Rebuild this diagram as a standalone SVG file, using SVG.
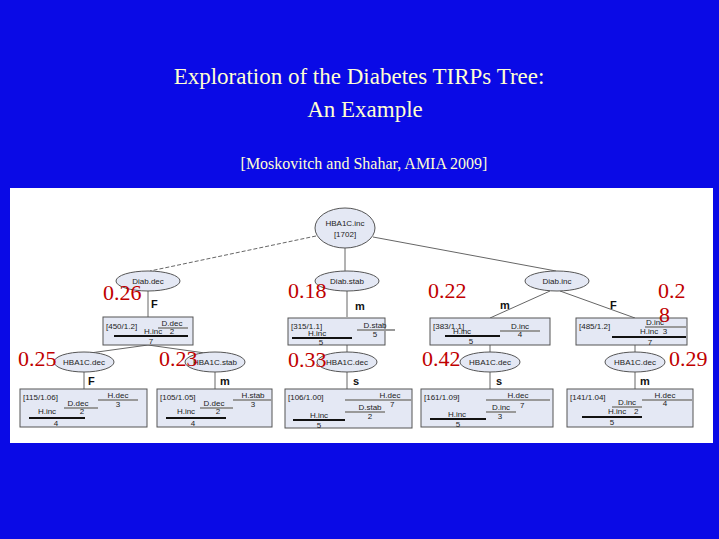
<svg xmlns="http://www.w3.org/2000/svg" width="719" height="539" viewBox="0 0 719 539">
<style>
.t{font-family:"Liberation Serif",serif;fill:#ffffd0;text-anchor:middle}
.r{font-family:"Liberation Serif",serif;fill:#c00000;font-size:22px}
.n{fill:#e4e8f4;stroke:#555;stroke-width:1}
.s{font-family:"Liberation Sans",sans-serif;font-size:8px;fill:#222}
.l{font-family:"Liberation Sans",sans-serif;font-size:11px;font-weight:bold;fill:#111}
.e{stroke:#666;stroke-width:1;fill:none}
.bk{stroke:#111;stroke-width:2}
.gr{stroke:#999;stroke-width:2}
</style>
<rect width="719" height="539" fill="#0a0ae6"/>
<text class="t" x="359" y="84" font-size="23">Exploration of the Diabetes TIRPs Tree:</text>
<text class="t" x="365" y="117" font-size="23">An Example</text>
<text class="t" x="364" y="169" font-size="16">[Moskovitch and Shahar, AMIA 2009]</text>
<rect x="10" y="188" width="703" height="255" fill="#fff"/>
<g id="connectors">
<line class="e" x1="316" y1="236" x2="150" y2="271" stroke-dasharray="4,2"/>
<line class="e" x1="373" y1="237" x2="556" y2="271"/>
<line class="e" x1="345" y1="248" x2="345" y2="271"/>
<line class="e" x1="148" y1="291" x2="148" y2="317"/>
<line class="e" x1="347" y1="291" x2="347" y2="317"/>
<line class="e" x1="550" y1="291" x2="490" y2="318"/>
<line class="e" x1="560" y1="291" x2="635" y2="318"/>
<line class="e" x1="148" y1="345" x2="90" y2="353"/>
<line class="e" x1="148" y1="345" x2="205" y2="353"/>
<line class="e" x1="347" y1="345" x2="347" y2="352"/>
<line class="e" x1="490" y1="345" x2="490" y2="352"/>
<line class="e" x1="635" y1="345" x2="635" y2="352"/>
<line class="e" x1="84" y1="372" x2="84" y2="389"/>
<line class="e" x1="215" y1="372" x2="215" y2="389"/>
<line class="e" x1="347" y1="372" x2="347" y2="389"/>
<line class="e" x1="490" y1="372" x2="490" y2="389"/>
<line class="e" x1="635" y1="372" x2="635" y2="389"/>
<text class="l" x="151" y="308">F</text><text class="l" x="355" y="310">m</text>
<text class="l" x="500" y="309">m</text><text class="l" x="610" y="309">F</text>
<text class="l" x="88" y="385">F</text><text class="l" x="220" y="385">m</text>
<text class="l" x="353" y="385">s</text><text class="l" x="496" y="385">s</text><text class="l" x="640" y="385">m</text>
</g>
<g id="root"><ellipse class="n" cx="345" cy="228" rx="30" ry="20"/><text class="s" x="345" y="226" text-anchor="middle">HBA1C.inc</text><text class="s" x="345" y="237" text-anchor="middle">[1702]</text></g>
<g id="diabdec"><ellipse class="n" cx="148" cy="281" rx="32" ry="10"/><text class="s" x="148" y="284" text-anchor="middle">Diab.dec</text></g>
<g id="diabstab"><ellipse class="n" cx="347" cy="281" rx="32" ry="10"/><text class="s" x="347" y="284" text-anchor="middle">Diab.stab</text></g>
<g id="diabinc"><ellipse class="n" cx="557" cy="281" rx="32" ry="10"/><text class="s" x="557" y="284" text-anchor="middle">Diab.inc</text></g>
<g id="b1"><rect class="n" x="103" y="317" width="90" height="28"/><text class="s" x="106" y="329">[450/1.2]</text><text class="s" x="144" y="334">H.inc</text><text class="s" x="172" y="326" text-anchor="middle">D.dec</text><line class="gr" x1="158" y1="328" x2="188" y2="328"/><text class="s" x="172" y="334" text-anchor="middle">2</text><line class="bk" x1="114" y1="336" x2="188" y2="336"/><text class="s" x="151" y="344" text-anchor="middle">7</text></g>
<g id="b2"><rect class="n" x="288" y="318" width="97" height="27"/><text class="s" x="291" y="329">[315/1.1]</text><text class="s" x="308" y="336">H.inc</text><line class="bk" x1="292" y1="338" x2="352" y2="338"/><text class="s" x="321" y="345" text-anchor="middle">5</text><text class="s" x="375" y="328" text-anchor="middle">D.stab</text><line class="gr" x1="357" y1="330" x2="395" y2="330"/><text class="s" x="375" y="337" text-anchor="middle">5</text></g>
<g id="b3"><rect class="n" x="430" y="318" width="120" height="27"/><text class="s" x="433" y="329">[383/1.1]</text><text class="s" x="462" y="334" text-anchor="middle">H.inc</text><line class="bk" x1="445" y1="336" x2="500" y2="336"/><text class="s" x="471" y="344" text-anchor="middle">5</text><text class="s" x="520" y="329" text-anchor="middle">D.inc</text><line class="gr" x1="500" y1="331" x2="540" y2="331"/><text class="s" x="520" y="337" text-anchor="middle">4</text></g>
<g id="b4"><rect class="n" x="576" y="318" width="111" height="27"/><text class="s" x="579" y="329">[485/1.2]</text><text class="s" x="655" y="325" text-anchor="middle">D.inc</text><line class="gr" x1="645" y1="327" x2="686" y2="327"/><text class="s" x="640" y="334">H.inc</text><text class="s" x="665" y="334" text-anchor="middle">3</text><line class="bk" x1="612" y1="337" x2="686" y2="337"/><text class="s" x="650" y="345" text-anchor="middle">7</text></g>
<g id="h1"><ellipse class="n" cx="84" cy="362" rx="30" ry="10"/><text class="s" x="84" y="365" text-anchor="middle">HBA1C.dec</text></g>
<g id="h2"><ellipse class="n" cx="215" cy="362" rx="30" ry="10"/><text class="s" x="215" y="365" text-anchor="middle">HBA1C.stab</text></g>
<g id="h3"><ellipse class="n" cx="347" cy="362" rx="30" ry="10"/><text class="s" x="347" y="365" text-anchor="middle">HBA1C.dec</text></g>
<g id="h4"><ellipse class="n" cx="490" cy="362" rx="30" ry="10"/><text class="s" x="490" y="365" text-anchor="middle">HBA1C.dec</text></g>
<g id="h5"><ellipse class="n" cx="635" cy="362" rx="30" ry="10"/><text class="s" x="635" y="365" text-anchor="middle">HBA1C.dec</text></g>
<g id="c1"><rect class="n" x="20" y="389" width="127" height="38"/><text class="s" x="23" y="400">[115/1.06]</text><text class="s" x="118" y="398" text-anchor="middle">H.dec</text><line class="gr" x1="98" y1="400" x2="138" y2="400"/><text class="s" x="118" y="407" text-anchor="middle">3</text><text class="s" x="78" y="406" text-anchor="middle">D.dec</text><line class="gr" x1="64" y1="408" x2="98" y2="408"/><text class="s" x="82" y="414" text-anchor="middle">2</text><text class="s" x="47" y="414" text-anchor="middle">H.inc</text><line class="bk" x1="29" y1="418" x2="85" y2="418"/><text class="s" x="56" y="426" text-anchor="middle">4</text></g>
<g id="c2"><rect class="n" x="157" y="389" width="115" height="38"/><text class="s" x="160" y="400">[105/1.05]</text><text class="s" x="253" y="398" text-anchor="middle">H.stab</text><line class="gr" x1="233" y1="400" x2="272" y2="400"/><text class="s" x="253" y="407" text-anchor="middle">3</text><text class="s" x="214" y="406" text-anchor="middle">D.dec</text><line class="gr" x1="200" y1="408" x2="233" y2="408"/><text class="s" x="218" y="414" text-anchor="middle">2</text><text class="s" x="186" y="414" text-anchor="middle">H.inc</text><line class="bk" x1="166" y1="418" x2="226" y2="418"/><text class="s" x="193" y="426" text-anchor="middle">4</text></g>
<g id="c3"><rect class="n" x="285" y="389" width="127" height="39"/><text class="s" x="288" y="400">[106/1.00]</text><text class="s" x="390" y="398" text-anchor="middle">H.dec</text><line class="gr" x1="345" y1="400" x2="412" y2="400"/><text class="s" x="370" y="410" text-anchor="middle">D.stab</text><text class="s" x="390" y="407">7</text><line class="gr" x1="345" y1="412" x2="385" y2="412"/><text class="s" x="370" y="419" text-anchor="middle">2</text><text class="s" x="319" y="418" text-anchor="middle">H.inc</text><line class="bk" x1="293" y1="420" x2="345" y2="420"/><text class="s" x="319" y="428" text-anchor="middle">5</text></g>
<g id="c4"><rect class="n" x="421" y="389" width="132" height="38"/><text class="s" x="424" y="400">[161/1.09]</text><text class="s" x="518" y="398" text-anchor="middle">H.dec</text><line class="gr" x1="486" y1="400" x2="550" y2="400"/><text class="s" x="501" y="410" text-anchor="middle">D.inc</text><text class="s" x="520" y="408">7</text><line class="gr" x1="486" y1="412" x2="516" y2="412"/><text class="s" x="500" y="419" text-anchor="middle">3</text><text class="s" x="457" y="417" text-anchor="middle">H.inc</text><line class="bk" x1="430" y1="419" x2="486" y2="419"/><text class="s" x="458" y="427" text-anchor="middle">5</text></g>
<g id="c5"><rect class="n" x="567" y="389" width="126" height="38"/><text class="s" x="570" y="400">[141/1.04]</text><text class="s" x="665" y="398" text-anchor="middle">H.dec</text><line class="gr" x1="642" y1="400" x2="692" y2="400"/><text class="s" x="665" y="406" text-anchor="middle">4</text><text class="s" x="627" y="405" text-anchor="middle">D.inc</text><line class="gr" x1="612" y1="407" x2="642" y2="407"/><text class="s" x="608" y="414">H.inc</text><text class="s" x="634" y="414">2</text><line class="bk" x1="582" y1="417" x2="642" y2="417"/><text class="s" x="612" y="425" text-anchor="middle">5</text></g>
<g id="scores">
<text class="r" x="103" y="300">0.26</text><text class="r" x="288" y="298">0.18</text><text class="r" x="428" y="298">0.22</text><text class="r" x="658" y="298">0.2</text><text class="r" x="659" y="322">8</text>
<text class="r" x="18" y="366">0.25</text><text class="r" x="159" y="366">0.23</text><text class="r" x="288" y="367">0.33</text><text class="r" x="422" y="366">0.42</text><text class="r" x="669" y="366">0.29</text>
</g>
</svg>
